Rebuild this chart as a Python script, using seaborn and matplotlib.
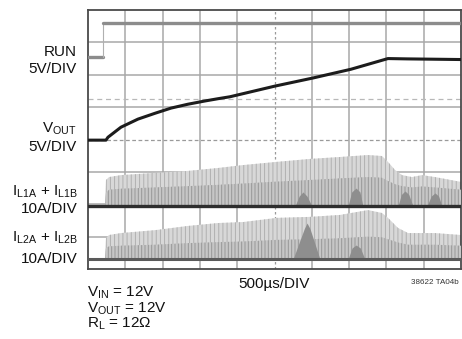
import numpy as np
import matplotlib
matplotlib.use('Agg')
import matplotlib.pyplot as plt
import seaborn as sns

# scope shot: x in microseconds (500us/DIV, 10 div), y in divisions (8 div)
run_t = [0, 201, 201, 5000]
run_v = [6.55, 6.55, 7.6, 7.6]

vout_t = [0, 241, 268, 442, 670, 898, 1113, 1340, 1568, 1743, 1903, 2507, 3016, 3525, 4021, 4276, 5000]
vout_v = [3.98, 3.98, 4.07, 4.38, 4.63, 4.81, 4.97, 5.09, 5.19, 5.26, 5.32, 5.65, 5.90, 6.17, 6.50, 6.49, 6.47]

vout_ref = 5.24

# inductor current envelopes (switching ripple), top and dense part
il1_base = 1.94
il1_t = [228, 241, 282, 442, 898, 1340, 1743, 2078, 2534, 2976, 3378, 3753, 3941, 4021, 4115, 4209, 4343, 4477, 4652, 5000]
il1_top = [1.95, 2.75, 2.84, 2.90, 2.97, 3.03, 3.12, 3.21, 3.31, 3.40, 3.46, 3.52, 3.49, 3.31, 3.06, 2.90, 2.84, 2.90, 2.84, 2.69]
il1_mid = [1.95, 2.35, 2.45, 2.48, 2.52, 2.56, 2.60, 2.64, 2.70, 2.75, 2.80, 2.84, 2.82, 2.72, 2.62, 2.56, 2.52, 2.55, 2.52, 2.45]

il2_base = 0.30
il2_t = [228, 241, 282, 442, 898, 1340, 1743, 2078, 2534, 2976, 3378, 3753, 3941, 4021, 4155, 4290, 4477, 4652, 5000]
il2_top = [0.30, 0.96, 1.05, 1.11, 1.20, 1.33, 1.42, 1.45, 1.58, 1.61, 1.67, 1.82, 1.73, 1.58, 1.27, 1.11, 1.11, 1.11, 1.05]
il2_mid = [0.30, 0.65, 0.70, 0.72, 0.75, 0.80, 0.83, 0.85, 0.90, 0.92, 0.95, 1.00, 0.98, 0.92, 0.82, 0.75, 0.75, 0.75, 0.72]

# darker beat humps
il1_humps_t = [[2775, 2830, 2882, 2935, 3003],
               [3485, 3535, 3593, 3645, 3686],
               [4155, 4200, 4249, 4300, 4357],
               [4544, 4600, 4652, 4700, 4745]]
il1_humps_v = [[1.94, 2.25, 2.38, 2.25, 1.94],
               [1.94, 2.38, 2.50, 2.38, 1.94],
               [1.94, 2.30, 2.41, 2.30, 1.94],
               [1.94, 2.25, 2.35, 2.25, 1.94]]
il2_humps_t = [[2748, 2900, 2936, 2975, 3110],
               [3485, 3540, 3593, 3650, 3713]]
il2_humps_v = [[0.30, 1.25, 1.42, 1.25, 0.30],
               [0.30, 0.65, 0.74, 0.65, 0.30]]

sns.set_style('white')
plt.rcParams['font.family'] = ['Liberation Sans', 'DejaVu Sans']
plt.rcParams['mathtext.fontset'] = 'custom'
plt.rcParams['mathtext.rm'] = 'Liberation Sans'
plt.rcParams['hatch.linewidth'] = 0.7

W, H = 462, 339
fig = plt.figure(figsize=(W / 100, H / 100), dpi=100)
ax = fig.add_axes([88 / W, 1 - 269 / H, 373 / W, 259 / H])
ax.set_xlim(0, 5000)
ax.set_ylim(0, 8)
ax.set_xticks([])
ax.set_yticks([])
for s in ax.spines.values():
    s.set_color('#4a4a4a')
    s.set_linewidth(1.3)

# graticule
for gx in range(500, 5000, 500):
    if gx == 2500:
        ax.axvline(gx, color='#9a9a9a', lw=0.9, ls=(0, (2, 2)), zorder=1)
    else:
        ax.axvline(gx, color='#a8a8a8', lw=1.1, zorder=1)
for gy in range(1, 8):
    if gy == 4:
        ax.axhline(gy, color='#9a9a9a', lw=0.9, ls=(0, (3, 2)), zorder=1)
    else:
        ax.axhline(gy, color='#a8a8a8', lw=1.1, zorder=1)
ax.axhline(vout_ref, color='#b8b8b8', lw=0.9, ls=(0, (4, 3)), zorder=1)

# current envelopes
for t, top, mid, base in [(il1_t, il1_top, il1_mid, il1_base), (il2_t, il2_top, il2_mid, il2_base)]:
    ax.fill_between(t, base, top, facecolor='#d8d8d8', edgecolor='#b0b0b0',
                    hatch='||||', linewidth=0, zorder=2)
    ax.fill_between(t, base, mid, facecolor='#c6c6c6', edgecolor='#979797',
                    hatch='|||||', linewidth=0, zorder=3)
for ht, hv in zip(il1_humps_t + il2_humps_t, il1_humps_v + il2_humps_v):
    ax.fill_between(ht, min(hv), hv, facecolor='#8e8e8e', linewidth=0, zorder=4)

sns.lineplot(x=[0, 5000], y=[il1_base, il1_base], color='#2e2e2e', lw=2.4, ax=ax, zorder=5)
sns.lineplot(x=[0, 5000], y=[il2_base, il2_base], color='#5a5a5a', lw=2.2, ax=ax, zorder=5)

sns.lineplot(x=run_t[:2], y=run_v[:2], color='#8c8c8c', lw=2.4, ax=ax, zorder=5)
sns.lineplot(x=run_t[1:3], y=run_v[1:3], color='#b0b0b0', lw=0.8, ax=ax, zorder=5, estimator=None)
sns.lineplot(x=run_t[2:], y=run_v[2:], color='#8c8c8c', lw=2.4, ax=ax, zorder=5)
sns.lineplot(x=vout_t, y=vout_v, color='#1c1c1c', lw=2.2, ax=ax, zorder=6, sort=False)

# labels
fs = 11


def ftext(x, y, s, **kw):
    fig.text(x / W, 1 - y / H, s, **kw)


right = dict(ha='right', va='baseline', fontsize=fs, color='#111111')
ftext(77, 56, 'RUN', **right)
ftext(77, 73, '5V/DIV', **right)
ftext(77, 133, r'$\mathregular{V_{OUT}}$', **right)
ftext(77, 151, '5V/DIV', **right)
ftext(78, 196, r'$\mathregular{I_{L1A}}$ + $\mathregular{I_{L1B}}$', **right)
ftext(78, 213, '10A/DIV', **right)
ftext(78, 242, r'$\mathregular{I_{L2A}}$ + $\mathregular{I_{L2B}}$', **right)
ftext(78, 263, '10A/DIV', **right)

left = dict(ha='left', va='baseline', fontsize=fs, color='#111111')
ftext(87, 297, r'$\mathregular{V_{IN}}$ = 12V', **left)
ftext(87, 313, r'$\mathregular{V_{OUT}}$ = 12V', **left)
ftext(87, 328, r'$\mathregular{R_{L}}$ = 12Ω', **left)
ftext(238, 288, '500µs/DIV', **left)
ftext(411, 284, '38622 TA04b', ha='left', va='baseline', fontsize=5.8, color='#333333')

fig.savefig('out.png', dpi=100)
